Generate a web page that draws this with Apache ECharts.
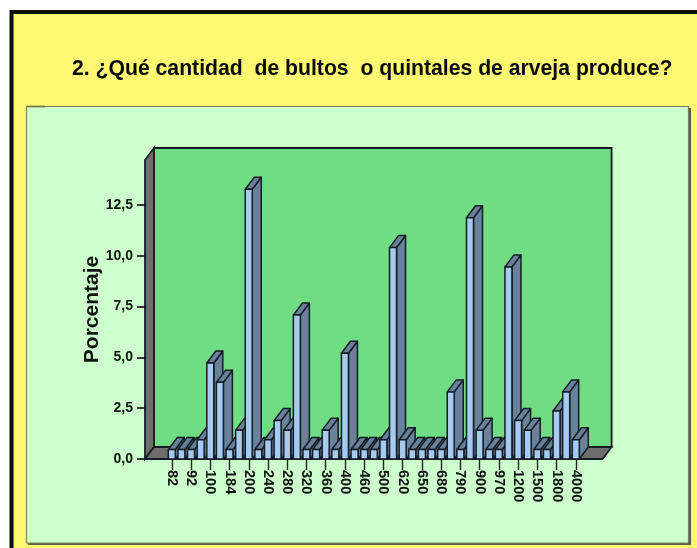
<!DOCTYPE html>
<html><head><meta charset="utf-8">
<style>html,body{margin:0;padding:0;background:#fff}#c{width:697px;height:548px}</style>
<script src="https://cdn.jsdelivr.net/npm/echarts@6/dist/echarts.min.js"></script>
</head><body><div id="c"></div>
<script>
var titleText = '2. ¿Qué cantidad  de bultos  o quintales de arveja produce?';
var yName = 'Porcentaje';
var tickLabels = ['82','92','100','184','200','240','280','320','360','400','460','500','620','650','680','790','900','970','1200','1500','1800','4000'];
var values = [0.47,0.47,0.47,0.95,4.72,3.77,0.47,1.42,13.27,0.47,0.95,1.89,1.42,7.08,0.47,0.47,1.42,0.47,5.2,0.47,0.47,0.47,0.95,10.4,0.95,0.47,0.47,0.47,0.47,3.3,0.47,11.87,1.42,0.47,0.47,9.45,1.89,1.42,0.47,0.47,2.36,3.3,0.95];
var yTicks = [0,2.5,5,7.5,10,12.5];
var yMax = 14.71;

var categories = values.map(function(_, i){ return i % 2 === 0 ? tickLabels[i / 2] : ''; });
var DX = 9, DY = -12, SIDE = 22, BW = 7;
var INK = '#141c24';

var chart = echarts.init(document.getElementById('c'), null, {renderer:'canvas', width:697, height:548});
chart.setOption({
  animation:false,
  backgroundColor:'#ffffff',
  title:{text:titleText,left:67,top:54,textStyle:{fontFamily:'Liberation Sans',fontSize:21.2,fontWeight:'bold',color:'#0a0a0a'}},
  graphic:[
    {type:'rect',z:-10,silent:true,shape:{x:9.5,y:10,width:700,height:560},style:{fill:'#0c0c0c'}},
    {type:'rect',z:-9,silent:true,shape:{x:13.5,y:14,width:700,height:560},style:{fill:'#FDF772'}},
    {type:'rect',z:-8,silent:true,shape:{x:28,y:108,width:663,height:437},style:{fill:'#55604a'}},
    {type:'rect',z:-7,silent:true,shape:{x:26.5,y:106.5,width:662,height:436.5},style:{fill:'#CCFFCC',stroke:'#7d8458',lineWidth:1.2}},
    {type:'line',z:-6,silent:true,shape:{x1:27,y1:106.5,x2:45,y2:106.5},style:{stroke:'#6f6f3c',lineWidth:1.6}}
  ],
  grid:{left:167,width:413.6,top:160,height:299,containLabel:false},
  xAxis:{type:'category',data:categories,boundaryGap:true,
    axisLine:{show:false},
    axisTick:{show:true,alignWithLabel:true,interval:1,length:11,lineStyle:{color:'#222',width:1.4}},
    axisLabel:{interval:1,rotate:-90,margin:11,hideOverlap:false,fontFamily:'Liberation Sans',fontSize:14.5,fontWeight:'bold',color:'#111'},
    splitLine:{show:false}},
  yAxis:{type:'value',min:0,max:yMax,offset:22,
    name:yName,nameLocation:'middle',nameRotate:90,nameGap:42,nameMoveOverlap:false,
    nameTextStyle:{fontFamily:'Liberation Sans',fontSize:21,fontWeight:'bold',color:'#111'},
    axisLine:{show:false},
    axisTick:{show:true,length:8,customValues:yTicks,lineStyle:{color:'#222',width:1.8}},
    axisLabel:{margin:12,customValues:yTicks,fontFamily:'Liberation Sans',fontSize:14,fontWeight:'bold',color:'#111',
      formatter:function(v){return v.toFixed(1).replace('.',',');}},
    splitLine:{show:false}},
  series:[
    {type:'custom',clip:false,silent:true,z:1,data:[[0,0]],encode:{x:0,y:1},
     renderItem:function(params,api){
       var cs=params.coordSys;
       var x0=cs.x-SIDE, x1=cs.x+cs.width+SIDE, yb=cs.y+cs.height, yt=cs.y;
       var st=function(f){return {fill:f,stroke:INK,lineWidth:1.8};};
       return {type:'group',children:[
         {type:'rect',shape:{x:x0+DX,y:yt+DY,width:x1-x0,height:cs.height},style:st('#70DC84')},
         {type:'polygon',shape:{points:[[x0,yt],[x0+DX,yt+DY],[x0+DX,yb+DY],[x0,yb]]},style:st('#6E6E6E')},
         {type:'polygon',shape:{points:[[x0,yb],[x0+DX,yb+DY],[x1+DX,yb+DY],[x1,yb]]},style:st('#6E6E6E')}
       ]};
     }},
    {type:'custom',clip:false,silent:true,z:2,
     data:values.map(function(v,i){return [i,v];}),encode:{x:0,y:1},
     renderItem:function(params,api){
       var top=api.coord([api.value(0),api.value(1)]);
       var base=api.coord([api.value(0),0]);
       var l=top[0]-BW/2,r=top[0]+BW/2,t=top[1],b=base[1];
       var s=function(f){return {fill:f,stroke:INK,lineWidth:1.5,lineJoin:'round'};};
       return {type:'group',children:[
         {type:'polygon',shape:{points:[[r,b],[r+DX,b+DY],[r+DX,t+DY],[r,t]]},style:s('#68829B')},
         {type:'polygon',shape:{points:[[l,t],[l+DX,t+DY],[r+DX,t+DY],[r,t]]},style:s('#68829B')},
         {type:'rect',shape:{x:l,y:t,width:BW,height:b-t},style:s('#A6CAF0')}
       ]};
     }}
  ]
});
</script></body></html>
